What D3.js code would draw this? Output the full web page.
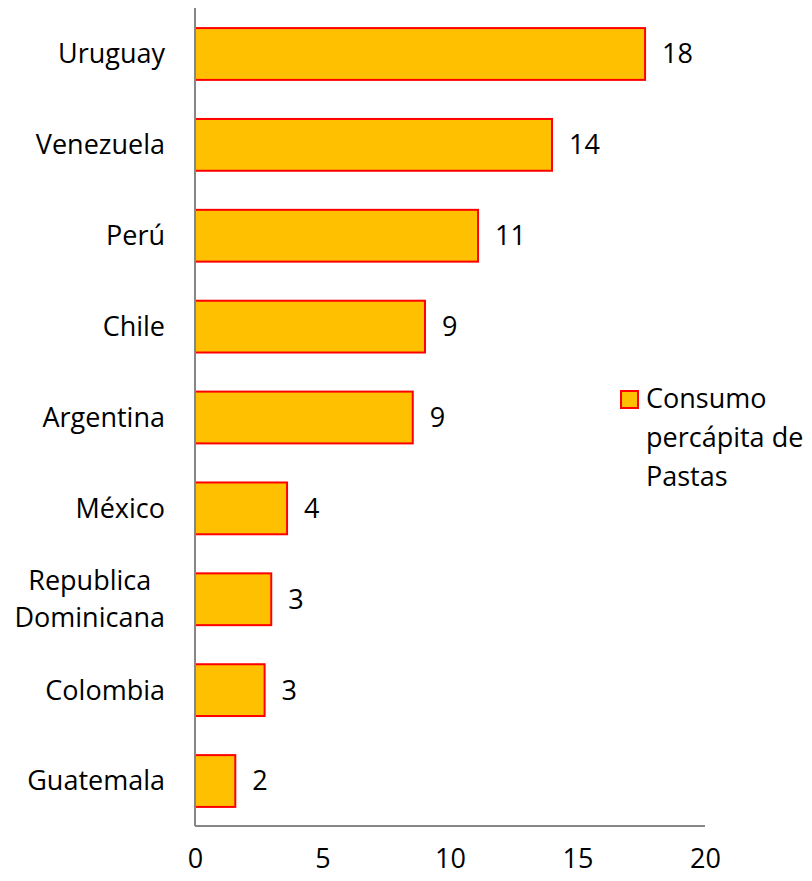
<!DOCTYPE html>
<html><head><meta charset="utf-8">
<script src="https://cdn.jsdelivr.net/npm/d3@7"></script>
<style>body{margin:0;background:#fff}svg{display:block}text{font-family:"Open Sans",sans-serif;fill:#000}</style>
</head><body>
<script>
const categories = ["Uruguay","Venezuela","Perú","Chile","Argentina","México","Republica Dominicana","Colombia","Guatemala"];
const values = [17.65, 14.0, 11.1, 9.02, 8.54, 3.61, 2.99, 2.73, 1.58];
const xTicks = [0,5,10,15,20];
const seriesName = "Consumo percápita de Pastas";
const legendLines = ["Consumo","percápita de","Pastas"];

const W=812,H=881,FS="27px";
const svg=d3.select("body").append("svg").attr("width",W).attr("height",H);
const x=d3.scaleLinear().domain([0,20]).range([195,705]);
const y=d3.scaleBand().domain(categories).range([9,826]).paddingInner(0.43).paddingOuter(0.21);

svg.selectAll("rect.bar").data(values).join("rect").attr("class","bar")
 .attr("x",x(0)).attr("y",(d,i)=>y(categories[i]))
 .attr("width",d=>x(d)-x(0)).attr("height",y.bandwidth())
 .attr("fill","#FFC000").attr("stroke","#FF0000").attr("stroke-width",2);

// axes
svg.append("line").attr("x1",x(0)).attr("x2",x(0)).attr("y1",8).attr("y2",826).attr("stroke","#868686").attr("stroke-width",2);
svg.append("line").attr("x1",x(0)).attr("x2",x(20)).attr("y1",826).attr("y2",826).attr("stroke","#868686").attr("stroke-width",2);

const xa=svg.append("g").attr("transform","translate(0,826)").call(d3.axisBottom(x).tickValues(xTicks).tickSize(0).tickFormat(d3.format("d")));
xa.select(".domain").remove();
xa.selectAll("text").attr("y",33).attr("dy","0.35em").style("font-size",FS).style("font-family","'Open Sans',sans-serif").attr("fill","#000");

// value labels
svg.selectAll("text.val").data(values).join("text").attr("class","val")
 .attr("x",d=>x(d)+17).attr("y",(d,i)=>y(categories[i])+y.bandwidth()/2)
 .attr("dy","0.35em").style("font-size",FS).text(d=>d3.format(".0f")(d));

// category labels
categories.forEach(c=>{
  const words = c==="Republica Dominicana" ? ["Republica","Dominicana"] : [c];
  const cy=y(c)+y.bandwidth()/2;
  const g=svg.append("g");
  const lh=37;
  const ts=words.map((w,i)=>g.append("text").attr("y",cy+(i-(words.length-1)/2)*lh).attr("dy","0.35em").style("font-size",FS).text(w));
  const maxW=d3.max(ts,t=>t.node().getComputedTextLength());
  ts.forEach(t=>t.attr("x",165-maxW/2).attr("text-anchor","middle"));
});

// legend
svg.append("rect").attr("x",621).attr("y",391).attr("width",17).attr("height",17).attr("fill","#FFC000").attr("stroke","#FF0000").attr("stroke-width",2);
legendLines.forEach((l,i)=>svg.append("text").attr("x",646).attr("y",399+i*39).attr("dy","0.35em").style("font-size",FS).text(l));
</script>
</body></html>
